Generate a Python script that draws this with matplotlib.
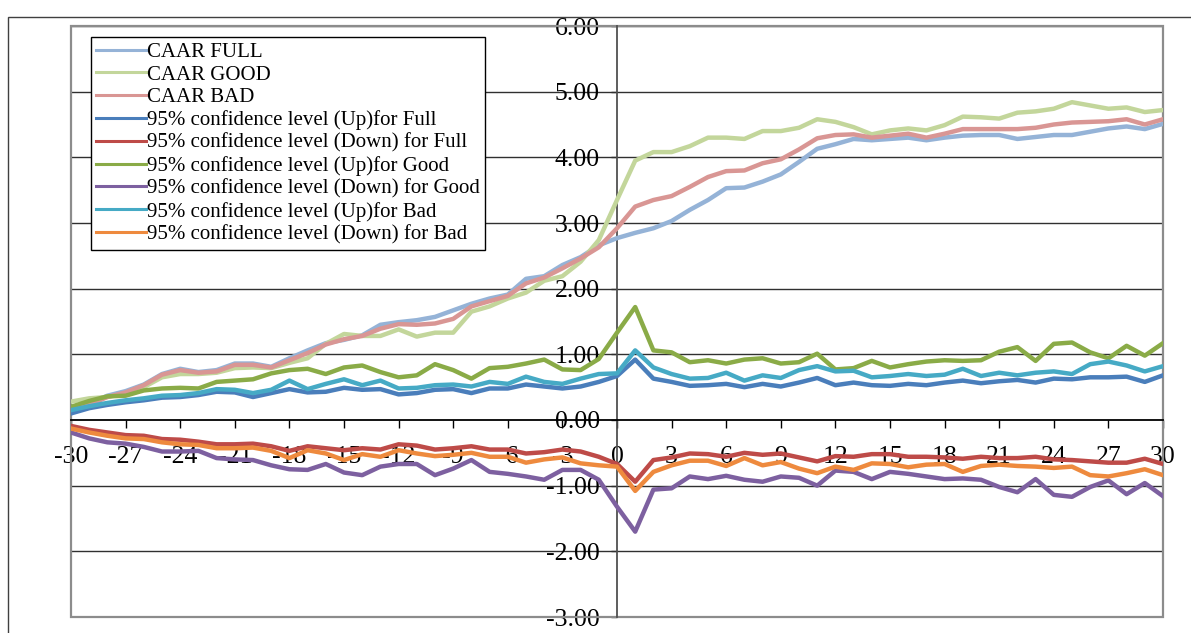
import numpy as np
import matplotlib
matplotlib.use('Agg')
import matplotlib.pyplot as plt
from matplotlib.patches import Rectangle

plt.rcParams['font.family'] = ['Liberation Serif', 'DejaVu Serif']
plt.rcParams['axes.unicode_minus'] = False

days = list(range(-30, 31))

caar_full = [0.13, 0.25, 0.37, 0.44, 0.54, 0.70, 0.78, 0.73, 0.76, 0.86, 0.86, 0.81, 0.94, 1.06, 1.17,
	1.22, 1.29, 1.45, 1.49, 1.52, 1.57, 1.67, 1.77, 1.85, 1.91, 2.15, 2.19, 2.36, 2.48, 2.66,
	2.77, 2.85, 2.92, 3.03, 3.20, 3.35, 3.53, 3.54, 3.63, 3.74, 3.93, 4.13, 4.20, 4.28, 4.26,
	4.28, 4.30, 4.26, 4.30, 4.33, 4.34, 4.34, 4.28, 4.31, 4.34, 4.34, 4.39, 4.44, 4.47, 4.43, 4.51]
caar_good = [0.28, 0.33, 0.35, 0.40, 0.50, 0.65, 0.70, 0.70, 0.72, 0.79, 0.80, 0.79, 0.87, 0.94, 1.16,
	1.31, 1.28, 1.28, 1.38, 1.27, 1.33, 1.33, 1.65, 1.73, 1.85, 1.94, 2.12, 2.19, 2.41, 2.74,
	3.35, 3.95, 4.08, 4.08, 4.17, 4.30, 4.30, 4.28, 4.40, 4.40, 4.45, 4.58, 4.54, 4.46, 4.35,
	4.41, 4.44, 4.41, 4.49, 4.62, 4.61, 4.59, 4.68, 4.70, 4.74, 4.84, 4.79, 4.74, 4.76, 4.69, 4.72]
caar_bad = [0.15, 0.23, 0.35, 0.42, 0.53, 0.69, 0.76, 0.72, 0.74, 0.84, 0.84, 0.80, 0.91, 1.02, 1.15,
	1.23, 1.28, 1.39, 1.46, 1.45, 1.47, 1.54, 1.73, 1.81, 1.89, 2.08, 2.17, 2.31, 2.46, 2.63,
	2.92, 3.25, 3.35, 3.41, 3.55, 3.70, 3.79, 3.80, 3.91, 3.97, 4.12, 4.29, 4.34, 4.35, 4.30,
	4.33, 4.36, 4.30, 4.36, 4.43, 4.43, 4.43, 4.43, 4.45, 4.50, 4.53, 4.54, 4.55, 4.58, 4.50, 4.58]
up_full = [0.10, 0.18, 0.23, 0.27, 0.30, 0.34, 0.35, 0.38, 0.43, 0.42, 0.35, 0.41, 0.47, 0.42, 0.43,
	0.49, 0.46, 0.47, 0.39, 0.41, 0.46, 0.47, 0.41, 0.48, 0.48, 0.54, 0.51, 0.48, 0.51, 0.58,
	0.67, 0.92, 0.63, 0.58, 0.52, 0.53, 0.55, 0.50, 0.55, 0.51, 0.57, 0.64, 0.53, 0.57, 0.53,
	0.52, 0.55, 0.53, 0.57, 0.60, 0.56, 0.59, 0.61, 0.57, 0.63, 0.62, 0.65, 0.65, 0.66, 0.58, 0.68]
down_full = [-0.09, -0.15, -0.19, -0.23, -0.24, -0.29, -0.30, -0.33, -0.37, -0.37, -0.36, -0.40, -0.47, -0.40, -0.43,
	-0.46, -0.43, -0.45, -0.37, -0.39, -0.45, -0.43, -0.40, -0.45, -0.45, -0.51, -0.49, -0.45, -0.48, -0.56,
	-0.67, -0.94, -0.61, -0.57, -0.51, -0.52, -0.56, -0.50, -0.53, -0.51, -0.57, -0.63, -0.55, -0.56, -0.52,
	-0.52, -0.56, -0.56, -0.57, -0.59, -0.56, -0.58, -0.58, -0.56, -0.60, -0.61, -0.63, -0.65, -0.65, -0.59, -0.67]
up_good = [0.20, 0.29, 0.36, 0.37, 0.45, 0.48, 0.49, 0.48, 0.58, 0.60, 0.62, 0.71, 0.76, 0.78, 0.70,
	0.80, 0.83, 0.73, 0.65, 0.68, 0.85, 0.76, 0.63, 0.79, 0.81, 0.86, 0.92, 0.77, 0.76, 0.93,
	1.33, 1.72, 1.06, 1.03, 0.88, 0.91, 0.86, 0.92, 0.94, 0.86, 0.88, 1.01, 0.77, 0.79, 0.90,
	0.80, 0.85, 0.89, 0.91, 0.90, 0.91, 1.04, 1.11, 0.90, 1.16, 1.18, 1.03, 0.94, 1.13, 0.98, 1.17]
down_good = [-0.19, -0.28, -0.34, -0.36, -0.41, -0.48, -0.48, -0.47, -0.58, -0.60, -0.61, -0.69, -0.75, -0.76, -0.67,
	-0.80, -0.84, -0.71, -0.67, -0.67, -0.84, -0.74, -0.61, -0.79, -0.82, -0.86, -0.91, -0.76, -0.76, -0.91,
	-1.32, -1.70, -1.06, -1.04, -0.86, -0.90, -0.85, -0.91, -0.94, -0.86, -0.88, -1.00, -0.77, -0.79, -0.90,
	-0.79, -0.82, -0.86, -0.90, -0.89, -0.91, -1.02, -1.10, -0.90, -1.14, -1.17, -1.02, -0.92, -1.13, -0.96, -1.16]
up_bad = [0.15, 0.21, 0.26, 0.30, 0.33, 0.37, 0.38, 0.41, 0.47, 0.46, 0.41, 0.46, 0.60, 0.47, 0.55,
	0.62, 0.53, 0.60, 0.48, 0.49, 0.53, 0.54, 0.51, 0.58, 0.55, 0.66, 0.58, 0.55, 0.63, 0.70,
	0.71, 1.06, 0.80, 0.70, 0.63, 0.64, 0.72, 0.60, 0.68, 0.64, 0.76, 0.82, 0.74, 0.75, 0.65,
	0.67, 0.70, 0.67, 0.69, 0.78, 0.67, 0.72, 0.68, 0.72, 0.74, 0.70, 0.85, 0.89, 0.83, 0.74, 0.82]
down_bad = [-0.13, -0.19, -0.24, -0.28, -0.29, -0.34, -0.37, -0.38, -0.43, -0.43, -0.42, -0.47, -0.58, -0.46, -0.51,
	-0.61, -0.52, -0.56, -0.46, -0.51, -0.55, -0.53, -0.50, -0.56, -0.56, -0.65, -0.60, -0.57, -0.66, -0.69,
	-0.71, -1.08, -0.79, -0.69, -0.62, -0.62, -0.70, -0.58, -0.69, -0.64, -0.74, -0.81, -0.71, -0.76, -0.66,
	-0.67, -0.72, -0.68, -0.67, -0.79, -0.70, -0.68, -0.70, -0.71, -0.73, -0.71, -0.84, -0.86, -0.81, -0.75, -0.84]

labels = ['CAAR FULL', 'CAAR GOOD', 'CAAR BAD',
	'95% confidence level (Up)for Full', '95% confidence level (Down) for Full',
	'95% confidence level (Up)for Good', '95% confidence level (Down) for Good',
	'95% confidence level (Up)for Bad', '95% confidence level (Down) for Bad']
series = [caar_full, caar_good, caar_bad, up_full, down_full, up_good, down_good, up_bad, down_bad]
colors = ['#95B3D7', '#C3D69B', '#D99694', '#4A7EBB', '#BE4B48', '#8AAB47', '#7D60A0', '#46AAC5', '#EE8A3E']

W, H = 1191, 633
fig = plt.figure(figsize=(W / 100, H / 100), dpi=100)
ax = fig.add_axes([71 / W, 1 - 617 / H, (1163 - 71) / W, (617 - 26) / H])

# outer chart frame
fig.add_artist(Rectangle((8 / W, -0.1), 1.2, 1 - 17 / H + 0.1, transform=fig.transFigure,
	fill=False, ec='#404040', lw=1.0))

for yv in range(-3, 7):
	if yv != 0:
		ax.axhline(yv, color='#303030', lw=1.0, zorder=1)

for s, c, lab in zip(series, colors, labels):
	ax.plot(days, s, color=c, lw=3.2, label=lab, zorder=3, solid_joinstyle='round')

ax.set_xlim(-30, 30)
ax.set_ylim(-3, 6)

for sp in ['top', 'right']:
	ax.spines[sp].set_visible(False)
ax.spines['left'].set_position(('data', 0))
ax.spines['bottom'].set_position(('data', 0))
ax.spines['left'].set_color('#505050')
ax.spines['left'].set_linewidth(1.3)
ax.spines['bottom'].set_color('#000000')
ax.spines['bottom'].set_linewidth(1.3)
ax.spines['left'].set_zorder(2)
ax.spines['bottom'].set_zorder(2)

# plot area border
ax.add_patch(Rectangle((0, 0), 1, 1, transform=ax.transAxes, fill=False,
	ec='#8C8C8C', lw=1.6, clip_on=False, zorder=2))

ax.set_yticks(range(-3, 7))
ax.set_yticklabels(['%.2f' % v for v in range(-3, 7)])
ax.set_xticks(range(-30, 31, 3))
ax.set_xticklabels([str(v) for v in range(-30, 31, 3)])
ax.tick_params(axis='y', direction='out', length=4.5, width=1, color='#303030', pad=8, labelsize=18.5)
ax.tick_params(axis='x', direction='out', length=6, width=1, color='#000000', pad=13, labelsize=18.5)

leg = ax.legend(loc='upper left', bbox_to_anchor=(91 / W, 1 - 37 / H), bbox_transform=fig.transFigure,
	borderaxespad=0, fontsize=15, frameon=True, fancybox=False, shadow=False,
	handlelength=2.4, handletextpad=0.05, labelspacing=0.15, borderpad=0.25)
leg.get_frame().set_edgecolor('#000000')
leg.get_frame().set_linewidth(1.0)
leg.get_frame().set_alpha(1)
for ln in leg.get_lines():
	ln.set_linewidth(2.2)
leg.set_zorder(5)

fig.savefig('out.png', dpi=100)
